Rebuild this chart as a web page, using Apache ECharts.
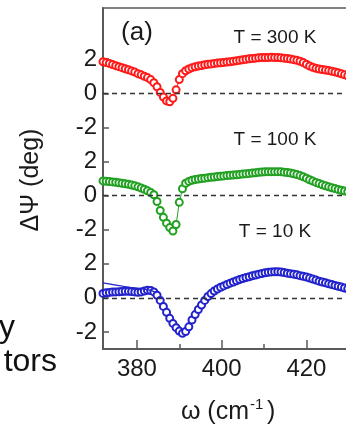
<!DOCTYPE html>
<html><head><meta charset="utf-8">
<script src="https://cdn.jsdelivr.net/npm/echarts@6/dist/echarts.min.js"></script>
<style>html,body{margin:0;padding:0;background:#fff;overflow:hidden}#c{width:358px;height:425px}</style>
</head><body><div id="c"></div>
<script>
const wavenumber = [372.00,372.75,373.50,374.25,375.00,375.75,376.50,377.25,378.00,378.75,
379.50,380.25,381.00,381.75,382.50,383.25,384.00,384.75,385.50,386.25,
387.00,387.75,388.50,389.25,390.00,390.75,391.50,392.25,393.00,393.75,
394.50,395.25,396.00,396.75,397.50,398.25,399.00,399.75,400.50,401.25,
402.00,402.75,403.50,404.25,405.00,405.75,406.50,407.25,408.00,408.75,
409.50,410.25,411.00,411.75,412.50,413.25,414.00,414.75,415.50,416.25,
417.00,417.75,418.50,419.25,420.00,420.75,421.50,422.25,423.00,423.75,
424.50,425.25,426.00,426.75,427.50,428.25,429.00,429.75,430.50,431.25,432.00];

const dPsi300K = [1.85,1.80,1.75,1.68,1.62,1.56,1.50,1.44,1.38,1.31,
1.24,1.15,1.08,1.00,0.92,0.80,0.62,0.38,0.05,-0.22,
-0.45,-0.50,-0.30,0.20,0.80,1.15,1.32,1.42,1.50,1.55,
1.60,1.63,1.67,1.70,1.72,1.75,1.77,1.79,1.81,1.83,
1.85,1.87,1.90,1.93,1.96,1.99,2.02,2.04,2.06,2.08,
2.09,2.10,2.10,2.11,2.10,2.09,2.08,2.06,2.04,2.01,
1.97,1.93,1.88,1.80,1.70,1.60,1.52,1.46,1.42,1.39,
1.36,1.33,1.29,1.25,1.20,1.14,1.08,1.02,0.96,0.90,0.84];

const dPsi100K = [0.86,0.84,0.82,0.80,0.78,0.75,0.72,0.69,0.66,0.62,
0.57,0.51,0.44,0.37,0.28,0.18,0.05,-0.35,-0.88,-1.28,
-1.62,-1.88,-2.08,-1.70,-0.40,0.40,0.72,0.83,0.90,0.94,
0.97,1.00,1.02,1.05,1.07,1.09,1.11,1.13,1.15,1.17,
1.19,1.20,1.22,1.24,1.26,1.28,1.30,1.32,1.34,1.36,
1.38,1.39,1.40,1.40,1.40,1.40,1.39,1.37,1.35,1.32,
1.28,1.23,1.17,1.10,1.02,0.93,0.85,0.77,0.70,0.63,
0.57,0.51,0.46,0.41,0.36,0.31,0.27,0.23,0.19,0.15,0.12];

const dPsi10K = [0.26,0.30,0.32,0.34,0.35,0.36,0.37,0.38,0.38,0.37,
0.35,0.33,0.35,0.40,0.44,0.43,0.35,0.15,-0.15,-0.50,
-0.85,-1.20,-1.50,-1.75,-1.95,-2.08,-1.98,-1.70,-1.30,-0.98,
-0.68,-0.42,-0.15,0.08,0.25,0.40,0.52,0.62,0.70,0.78,
0.86,0.93,1.00,1.07,1.13,1.19,1.24,1.29,1.34,1.39,
1.43,1.47,1.50,1.52,1.53,1.53,1.51,1.48,1.45,1.42,
1.39,1.35,1.30,1.26,1.22,1.16,1.10,1.04,0.98,0.93,
0.88,0.83,0.78,0.73,0.68,0.63,0.58,0.53,0.48,0.43,0.38];

const fit10Kx = [372, 377.5, 383, 384.5];
const fit10Ky = [0.88, 0.65, 0.45, 0.30];

const panelOffsets = [12, 6, 0];
const panelTemps = ['T = 300 K', 'T = 100 K', 'T = 10 K'];
const xMajorTicks = [380, 400, 420];
const xMinorTicks = [390, 410, 430];
const yTickValues = [-2, 0, 2];

const colors = ['#ff1a1a', '#22a022', '#2222cc'];
const axisColor = '#5a5a5a';
const textColor = '#1a1a1a';
const FONT = '"Liberation Sans", Arial, sans-serif';

const seriesVals = [dPsi300K, dPsi100K, dPsi10K];
const yTicks = [];
panelOffsets.forEach(o => yTickValues.forEach(v => yTicks.push(o + v)));
yTicks.sort((a, b) => a - b);

const series = [];
seriesVals.forEach((vals, p) => {
  series.push({
    type: 'line',
    xAxisIndex: 0, yAxisIndex: 0,
    data: wavenumber.map((x, i) => [x, vals[i] + panelOffsets[p]]),
    symbol: 'emptyCircle', symbolSize: 7, showSymbol: true,
    itemStyle: { color: colors[p], borderColor: colors[p], borderWidth: 1 },
    lineStyle: { color: colors[p], width: 1 },
    animation: false, silent: true, z: 3,
    markLine: {
      silent: true, symbol: 'none', animation: false,
      label: { show: false },
      lineStyle: { color: '#333', type: [5, 4], width: 1.3 },
      data: [{ yAxis: panelOffsets[p] }]
    }
  });
});
series.push({
  type: 'line',
  data: fit10Kx.map((x, i) => [x, fit10Ky[i] + panelOffsets[2]]),
  symbol: 'none', smooth: true,
  lineStyle: { color: colors[2], width: 1.2 },
  animation: false, silent: true, z: 4
});

const graphics = [];
const tempY = [38, 140, 232];
panelTemps.forEach((t, p) => {
  graphics.push({ type: 'text', x: 275, y: tempY[p], style: { text: t, fill: textColor, font: '19px ' + FONT, align: 'center', verticalAlign: 'middle' } });
});
graphics.push({ type: 'text', x: 137, y: 33, style: { text: '(a)', fill: textColor, font: '26px ' + FONT, align: 'center', verticalAlign: 'middle' } });
graphics.push({ type: 'text', x: 31, y: 180, rotation: Math.PI / 2, style: { text: 'ΔΨ (deg)', fill: textColor, font: '25px ' + FONT, align: 'center', verticalAlign: 'middle' } });
graphics.push({ type: 'text', x: 249, y: 412, style: { text: 'ω (cm', fill: textColor, font: '25px ' + FONT, align: 'right', verticalAlign: 'middle' } });
graphics.push({ type: 'text', x: 250, y: 405, style: { text: '-1', fill: textColor, font: '15px ' + FONT, align: 'left', verticalAlign: 'middle' } });
graphics.push({ type: 'text', x: 267, y: 412, style: { text: ')', fill: textColor, font: '25px ' + FONT, align: 'left', verticalAlign: 'middle' } });
graphics.push({ type: 'text', x: 15, y: 328, style: { text: 'y', fill: '#111', font: '32px ' + FONT, align: 'right', verticalAlign: 'middle' } });
graphics.push({ type: 'text', x: 57, y: 362, style: { text: 'tors', fill: '#111', font: '32px ' + FONT, align: 'right', verticalAlign: 'middle' } });

const chart = echarts.init(document.getElementById('c'), null, { renderer: 'canvas' });
chart.setOption({
  backgroundColor: '#ffffff',
  animation: false,
  grid: { left: 103, top: 8, right: 0.75, bottom: 76, show: true, borderColor: axisColor, borderWidth: 1.6, backgroundColor: 'transparent' },
  xAxis: [{
    type: 'value', min: 372, max: 432, position: 'bottom',
    axisLine: { show: true, onZero: false, lineStyle: { color: axisColor, width: 2 } },
    axisTick: { show: true, inside: true, length: 9, customValues: xMajorTicks, lineStyle: { color: axisColor, width: 1.5 } },
    axisLabel: { show: true, customValues: xMajorTicks, margin: 8, color: textColor, fontSize: 24, fontFamily: FONT },
    splitLine: { show: false }
  }, {
    type: 'value', min: 372, max: 432, position: 'bottom', gridIndex: 0,
    axisLine: { show: false, onZero: false },
    axisTick: { show: true, inside: true, length: 5, customValues: xMinorTicks, lineStyle: { color: axisColor, width: 1.5 } },
    axisLabel: { show: false, customValues: xMinorTicks },
    splitLine: { show: false }
  }],
  yAxis: [{
    type: 'value', min: -3, max: 17,
    axisLine: { show: true, onZero: false, lineStyle: { color: axisColor, width: 2 } },
    axisTick: { show: true, inside: true, length: 6, customValues: yTicks, lineStyle: { color: axisColor, width: 1.5 } },
    axisLabel: {
      show: true, customValues: yTicks, margin: 6, color: textColor, fontSize: 24, fontFamily: FONT,
      formatter: v => String((((v + 2) % 6) + 6) % 6 - 2)
    },
    splitLine: { show: false }
  }],
  series: series,
  graphic: graphics
});
</script>
</body></html>
